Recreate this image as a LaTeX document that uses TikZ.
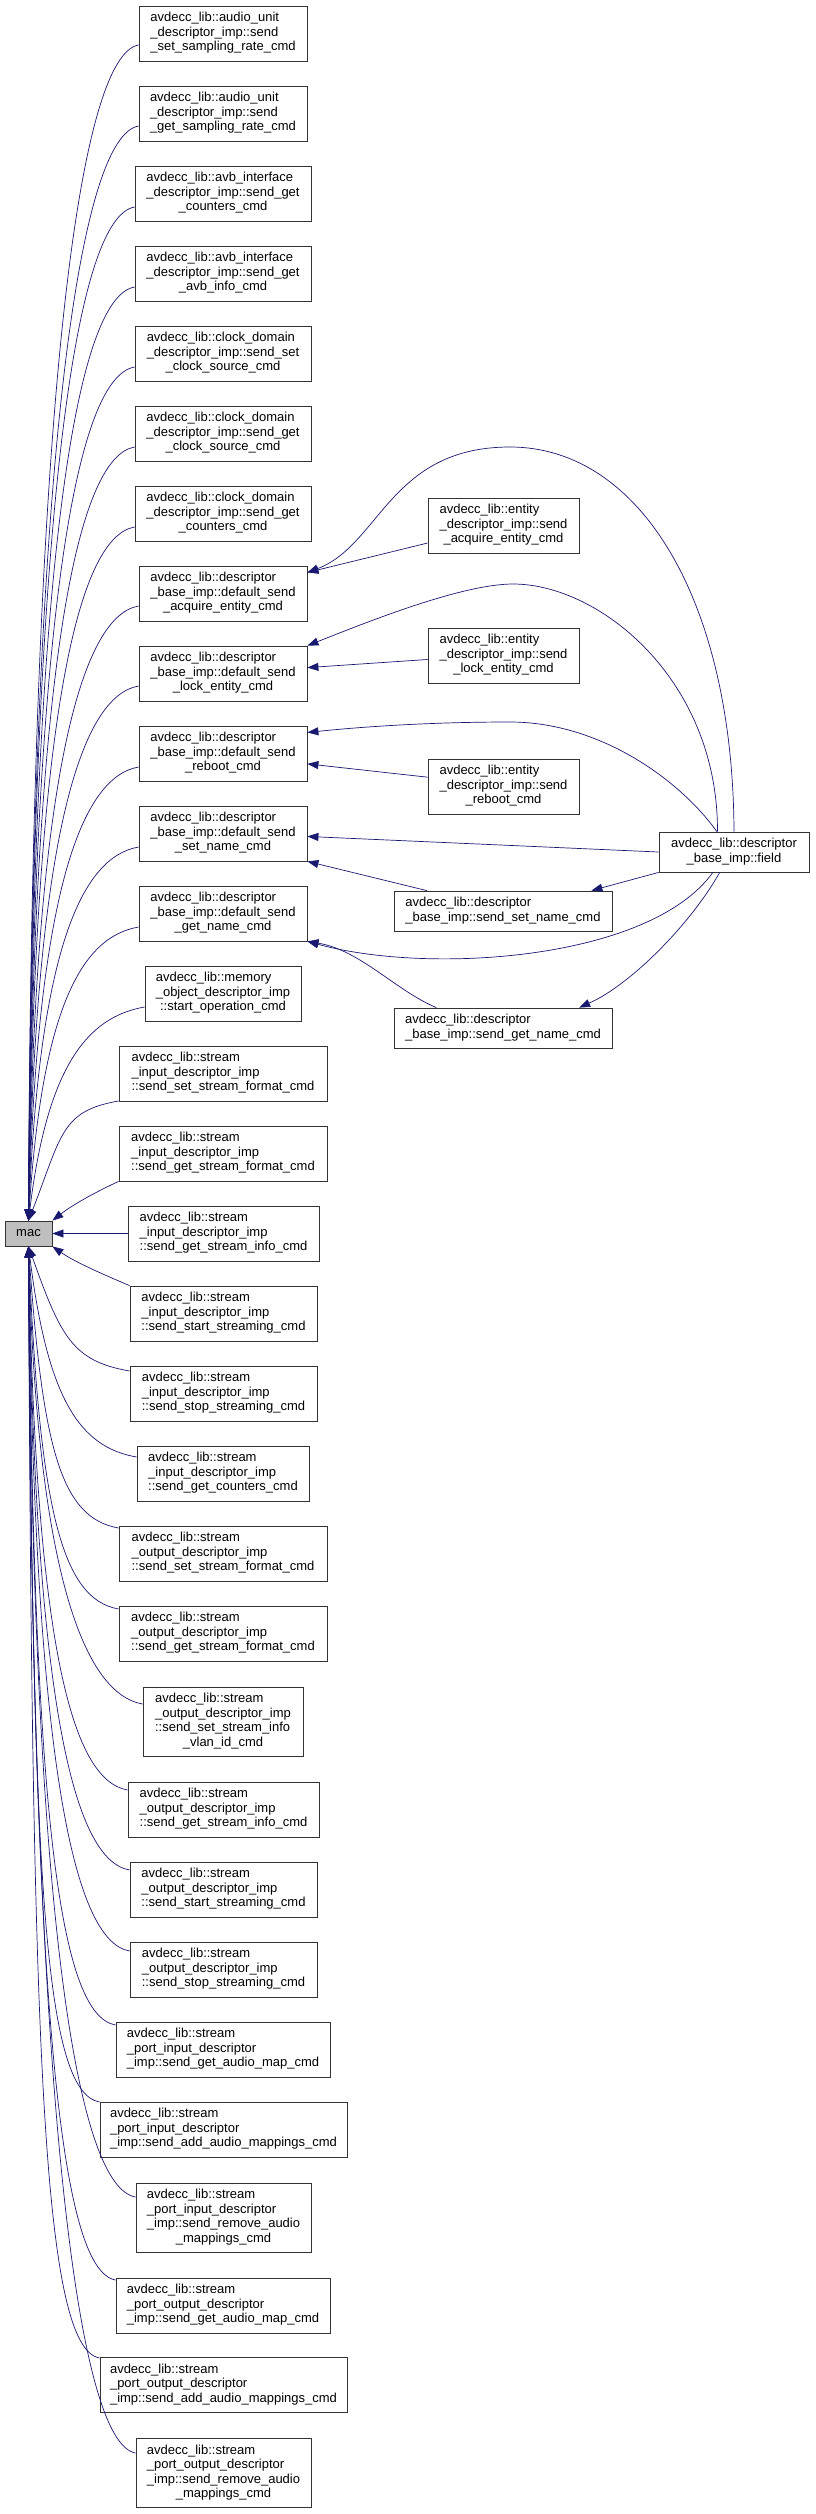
\documentclass[tikz,border=0pt]{standalone}
\usepackage{fontspec}
\setmainfont{Liberation Sans}
\usepackage{xcolor}
\usetikzlibrary{arrows.meta,positioning}
\definecolor{edgeblue}{RGB}{25,25,112}
\newcommand{\fnlines}[1]{\begin{tabular}{@{}l@{}}#1\end{tabular}}
\newcommand{\lastln}[1]{\multicolumn{1}{@{}c@{}}{#1}}

\begin{document}
\begin{tikzpicture}[
  x=1pt, y=-1pt,
  box/.style={draw=black!80, line width=0.8pt, fill=white, inner sep=0pt, minimum height=55pt, font={\fontsize{13}{14.5}\selectfont}},
  cur/.style={box, fill=black!25, minimum width=47pt, minimum height=25pt},
  arr/.style={-{Triangle[length=11pt,width=8pt,fill=edgeblue]}, draw=edgeblue, line width=0.7pt}
]
\useasboundingbox (0,0) rectangle (815,2514);

\node[cur] (mac) at (28.5,1233.5) {mac};

\node[box, minimum width=168pt] (c1) at (223,33.5) {\fnlines{avdecc\_lib::audio\_unit\\\_descriptor\_imp::send\\\lastln{\_set\_sampling\_rate\_cmd}}};
\node[box, minimum width=168pt] (c2) at (223,113.5) {\fnlines{avdecc\_lib::audio\_unit\\\_descriptor\_imp::send\\\lastln{\_get\_sampling\_rate\_cmd}}};
\node[box, minimum width=176pt] (c3) at (223,193.5) {\fnlines{avdecc\_lib::avb\_interface\\\_descriptor\_imp::send\_get\\\lastln{\_counters\_cmd}}};
\node[box, minimum width=176pt] (c4) at (223,273.5) {\fnlines{avdecc\_lib::avb\_interface\\\_descriptor\_imp::send\_get\\\lastln{\_avb\_info\_cmd}}};
\node[box, minimum width=176pt] (c5) at (223,353.5) {\fnlines{avdecc\_lib::clock\_domain\\\_descriptor\_imp::send\_set\\\lastln{\_clock\_source\_cmd}}};
\node[box, minimum width=176pt] (c6) at (223,433.5) {\fnlines{avdecc\_lib::clock\_domain\\\_descriptor\_imp::send\_get\\\lastln{\_clock\_source\_cmd}}};
\node[box, minimum width=176pt] (c7) at (223,513.5) {\fnlines{avdecc\_lib::clock\_domain\\\_descriptor\_imp::send\_get\\\lastln{\_counters\_cmd}}};
\node[box, minimum width=168pt] (c8) at (223,593.5) {\fnlines{avdecc\_lib::descriptor\\\_base\_imp::default\_send\\\lastln{\_acquire\_entity\_cmd}}};
\node[box, minimum width=168pt] (c9) at (223,673.5) {\fnlines{avdecc\_lib::descriptor\\\_base\_imp::default\_send\\\lastln{\_lock\_entity\_cmd}}};
\node[box, minimum width=168pt] (c10) at (223,753.5) {\fnlines{avdecc\_lib::descriptor\\\_base\_imp::default\_send\\\lastln{\_reboot\_cmd}}};
\node[box, minimum width=168pt] (c11) at (223,833.5) {\fnlines{avdecc\_lib::descriptor\\\_base\_imp::default\_send\\\lastln{\_set\_name\_cmd}}};
\node[box, minimum width=168pt] (c12) at (223,913.5) {\fnlines{avdecc\_lib::descriptor\\\_base\_imp::default\_send\\\lastln{\_get\_name\_cmd}}};
\node[box, minimum width=156pt] (c13) at (223,993.5) {\fnlines{avdecc\_lib::memory\\\_object\_descriptor\_imp\\\lastln{::start\_operation\_cmd}}};
\node[box, minimum width=208pt] (c14) at (223,1073.5) {\fnlines{avdecc\_lib::stream\\\_input\_descriptor\_imp\\\lastln{::send\_set\_stream\_format\_cmd}}};
\node[box, minimum width=208pt] (c15) at (223,1153.5) {\fnlines{avdecc\_lib::stream\\\_input\_descriptor\_imp\\\lastln{::send\_get\_stream\_format\_cmd}}};
\node[box, minimum width=191pt] (c16) at (223.5,1233.5) {\fnlines{avdecc\_lib::stream\\\_input\_descriptor\_imp\\\lastln{::send\_get\_stream\_info\_cmd}}};
\node[box, minimum width=187pt] (c17) at (223.5,1313.5) {\fnlines{avdecc\_lib::stream\\\_input\_descriptor\_imp\\\lastln{::send\_start\_streaming\_cmd}}};
\node[box, minimum width=187pt] (c18) at (223.5,1393.5) {\fnlines{avdecc\_lib::stream\\\_input\_descriptor\_imp\\\lastln{::send\_stop\_streaming\_cmd}}};
\node[box, minimum width=172pt] (c19) at (223,1473.5) {\fnlines{avdecc\_lib::stream\\\_input\_descriptor\_imp\\\lastln{::send\_get\_counters\_cmd}}};
\node[box, minimum width=208pt] (c20) at (223,1553.5) {\fnlines{avdecc\_lib::stream\\\_output\_descriptor\_imp\\\lastln{::send\_set\_stream\_format\_cmd}}};
\node[box, minimum width=208pt] (c21) at (223,1633.5) {\fnlines{avdecc\_lib::stream\\\_output\_descriptor\_imp\\\lastln{::send\_get\_stream\_format\_cmd}}};
\node[box, minimum width=160pt, minimum height=69pt] (c22) at (223,1721.5) {\fnlines{avdecc\_lib::stream\\\_output\_descriptor\_imp\\::send\_set\_stream\_info\\\lastln{\_vlan\_id\_cmd}}};
\node[box, minimum width=191pt] (c23) at (223.5,1809.5) {\fnlines{avdecc\_lib::stream\\\_output\_descriptor\_imp\\\lastln{::send\_get\_stream\_info\_cmd}}};
\node[box, minimum width=187pt] (c24) at (223.5,1889.5) {\fnlines{avdecc\_lib::stream\\\_output\_descriptor\_imp\\\lastln{::send\_start\_streaming\_cmd}}};
\node[box, minimum width=187pt] (c25) at (223.5,1969.5) {\fnlines{avdecc\_lib::stream\\\_output\_descriptor\_imp\\\lastln{::send\_stop\_streaming\_cmd}}};
\node[box, minimum width=214pt] (c26) at (223,2049.5) {\fnlines{avdecc\_lib::stream\\\_port\_input\_descriptor\\\lastln{\_imp::send\_get\_audio\_map\_cmd}}};
\node[box, minimum width=247pt] (c27) at (223.5,2129.5) {\fnlines{avdecc\_lib::stream\\\_port\_input\_descriptor\\\lastln{\_imp::send\_add\_audio\_mappings\_cmd}}};
\node[box, minimum width=175pt, minimum height=69pt] (c28) at (223.5,2217.5) {\fnlines{avdecc\_lib::stream\\\_port\_input\_descriptor\\\_imp::send\_remove\_audio\\\lastln{\_mappings\_cmd}}};
\node[box, minimum width=214pt] (c29) at (223,2305.5) {\fnlines{avdecc\_lib::stream\\\_port\_output\_descriptor\\\lastln{\_imp::send\_get\_audio\_map\_cmd}}};
\node[box, minimum width=247pt] (c30) at (223.5,2385) {\fnlines{avdecc\_lib::stream\\\_port\_output\_descriptor\\\lastln{\_imp::send\_add\_audio\_mappings\_cmd}}};
\node[box, minimum width=175pt, minimum height=69pt] (c31) at (223.5,2473) {\fnlines{avdecc\_lib::stream\\\_port\_output\_descriptor\\\_imp::send\_remove\_audio\\\lastln{\_mappings\_cmd}}};

\node[box, minimum width=151pt] (entacq) at (503.5,525.5) {\fnlines{avdecc\_lib::entity\\\_descriptor\_imp::send\\\lastln{\_acquire\_entity\_cmd}}};
\node[box, minimum width=151pt] (entlock) at (503.5,655.5) {\fnlines{avdecc\_lib::entity\\\_descriptor\_imp::send\\\lastln{\_lock\_entity\_cmd}}};
\node[box, minimum width=151pt] (entreboot) at (503.5,786.5) {\fnlines{avdecc\_lib::entity\\\_descriptor\_imp::send\\\lastln{\_reboot\_cmd}}};
\node[box, minimum width=150pt, minimum height=40pt] (field) at (734,852) {\fnlines{avdecc\_lib::descriptor\\\lastln{\_base\_imp::field}}};
\node[box, minimum width=218pt, minimum height=40pt] (setname) at (503,911) {\fnlines{avdecc\_lib::descriptor\\\lastln{\_base\_imp::send\_set\_name\_cmd}}};
\node[box, minimum width=218pt, minimum height=40pt] (getname) at (503,1028) {\fnlines{avdecc\_lib::descriptor\\\lastln{\_base\_imp::send\_get\_name\_cmd}}};

\foreach \n/\x/\y in {1/139/45,2/139/126,3/135/207,4/135/287,5/135/367,6/135/447,7/135/527,8/139/606,9/139/686,10/139/767,11/139/847,12/139/927,13/145/1007,14/119/1101} {
  \pgfmathsetmacro\d{1221-\y}
  \draw[arr] (c\n.west |- 0,\y) .. controls (\x-58,\y+10) and ({28.5+4000/\d},{\y+0.28*\d}) .. (mac.north);
}
\draw[arr] (c15.south west) .. controls (100,1190) and (75,1203) .. (mac.north east);
\draw[arr] (c16.west) -- (mac.east);
\draw[arr] (c17.north west) .. controls (100,1273) and (75,1262) .. (mac.south east);
\foreach \n/\x/\y in {18/130/1371,19/137/1457,20/119/1528,21/119/1609,22/143/1704,23/128/1790,24/130/1870,25/130/1951,26/116/2025,27/100/2102,28/136/2197,29/116/2280,30/100/2358,31/136/2453} {
  \pgfmathsetmacro\d{\y-1246}
  \draw[arr] (c\n.west |- 0,\y) .. controls (\x-58,\y-10) and ({28.5+4000/\d},{\y-0.28*\d}) .. (mac.south);
}

\draw[arr] (entacq.193) -- (c8.14);
\draw[arr] (field.north) .. controls (733,600) and (640,447) .. (510,447) .. controls (390,447) and (380,545) .. (c8.14);
\draw[arr] (entlock.183) -- (c9.4);
\draw[arr] (field.129) .. controls (718,680) and (600,584) .. (513,584) .. controls (460,584) and (360,625) .. (c9.north east);
\draw[arr] (entreboot.173) -- (c10.-7);
\draw[arr] (field.130) .. controls (680,780) and (600,722) .. (510,722) .. controls (420,722) and (350,728) .. (c10.14);
\draw[arr] (field.west) -- (c11.-2);
\draw[arr] (setname.165) -- (c11.south east);
\draw[arr] (field.south west) -- (setname.13);
\draw[arr] (field.-136) .. controls (650,960) and (430,975) .. (c12.south east);
\draw[arr] (getname.163) .. controls (395,990) and (360,950) .. (c12.south east);
\draw[arr] (field.-125) .. controls (690,925) and (630,985) .. (getname.15);
\end{tikzpicture}
\end{document}
